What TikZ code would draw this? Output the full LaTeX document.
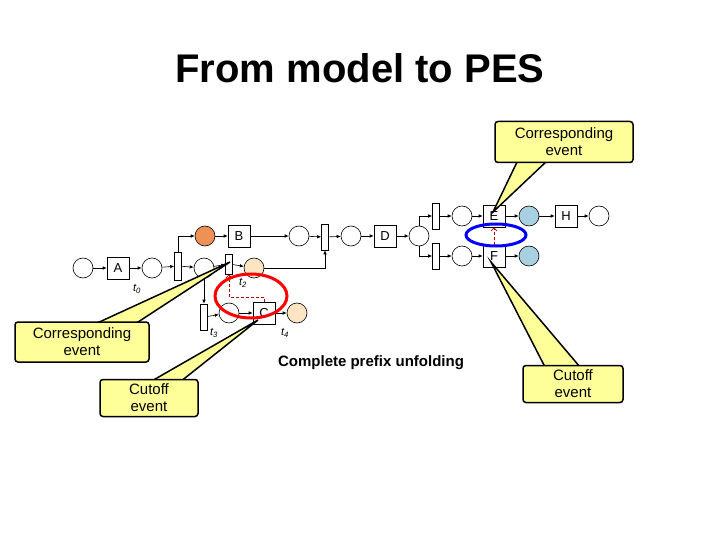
\documentclass[tikz,border=0pt]{standalone}
\usepackage{fontspec}
\setmainfont{Liberation Sans}
\usetikzlibrary{arrows.meta,shapes.geometric}
\definecolor{orng}{RGB}{238,145,85}
\definecolor{lorng}{RGB}{253,228,195}
\definecolor{lblue}{RGB}{168,208,224}
\definecolor{cyel}{RGB}{255,255,153}
\begin{document}
\begin{tikzpicture}[x=1pt,y=-1pt,
  pl/.style={circle,draw,fill=white,minimum size=20pt,inner sep=0pt,line width=0.6pt},
  tr/.style={rectangle,draw,fill=white,minimum size=22pt,inner sep=0pt,font=\fontsize{13}{13}\selectfont,line width=0.6pt},
  bar/.style={rectangle,draw,fill=white,minimum width=7pt,minimum height=26pt,inner sep=0pt,line width=0.6pt},
  ar/.style={-{Latex[length=4pt,width=3.5pt]},line width=0.6pt},
  lab/.style={font=\fontsize{11}{11}\selectfont\itshape},
  call/.style={draw=black,line width=1.5pt,fill=cyel},
  ctext/.style={font=\fontsize{15}{17}\selectfont,align=center}]
\useasboundingbox (0,0) rectangle (720,540);
\node[font=\fontsize{40}{40}\selectfont\bfseries] (title) at (360,68) {From model to PES};
% net
\node[pl] (p0) at (83,268) {};
\node[tr] (A) at (118,268) {A};
\node[pl] (p1) at (152,268) {};
\node[bar,minimum height=28pt] (b1) at (178,266) {};
\node[pl] (p2) at (204,268) {};
\node[bar,minimum height=20pt] (t2) at (229,264) {};
\node[pl,fill=lorng] (p3) at (254,268) {};
\node[pl,fill=orng] (po) at (205,236) {};
\node[tr] (B) at (239,236) {B};
\node[pl] (p4) at (299,236) {};
\node[bar] (b2) at (325,237) {};
\node[pl] (p5) at (351,236) {};
\node[tr] (D) at (385,236) {D};
\node[pl] (p6) at (419,236) {};
\node[bar] (b3) at (436,216) {};
\node[pl] (p7) at (462,216) {};
\node[tr] (E) at (494,216) {E};
\node[pl,fill=lblue] (p8) at (529,216) {};
\node[tr] (H) at (566,216) {H};
\node[pl] (p9) at (599,216) {};
\node[bar] (b4) at (436,256) {};
\node[pl] (p10) at (462,256) {};
\node[tr] (F) at (494,256) {F};
\node[pl,fill=lblue] (p11) at (529,256) {};
\node[bar] (t3) at (204,317) {};
\node[pl] (p12) at (229,313) {};
\node[tr] (C) at (264,313) {C};
\node[pl,fill=lorng] (p13) at (297,313) {};
\draw[ar] (p0)--(A); \draw[ar] (A)--(p1); \draw[ar] (p1)--(b1); \draw[ar] (b1)--(p2);
\draw[ar] (p2)--(t2); \draw[ar] (t2)--(p3);
\draw[ar] (b1.north) |- (po); \draw[ar] (po)--(B); \draw[ar] (B)--(p4);
\draw[ar] (p4)--(b2); \draw[ar] (b2)--(p5); \draw[ar] (p5)--(D); \draw[ar] (D)--(p6);
\draw[ar] (p3) -| (b2.south);
\draw[ar] (p6.north) |- (b3); \draw[ar] (p6.south) |- (b4);
\draw[ar] (b3)--(p7); \draw[ar] (p7)--(E); \draw[ar] (E)--(p8); \draw[ar] (p8)--(H); \draw[ar] (H)--(p9);
\draw[ar] (b4)--(p10); \draw[ar] (p10)--(F); \draw[ar] (F)--(p11);
\draw[ar] (p2.south) -- (t3.north);
\draw[ar] (t3)--(p12); \draw[ar] (p12)--(C); \draw[ar] (C)--(p13);
\node[lab] (l0) at (137,289) {t\textsubscript{0}};
\node[lab] (l2) at (243,283) {t\textsubscript{2}};
\node[lab] (l3) at (214,333) {t\textsubscript{3}};
\node[lab] (l4) at (285,333) {t\textsubscript{4}};
% red dashed relations
\coordinate (cr) at (229,297);
\draw[red!70!black,densely dashed,line width=0.7pt,-{Straight Barb[length=3pt]}] (C.north) |- (cr) -- (t2.south);
\draw[red!70!black,densely dashed,line width=0.7pt,-{Straight Barb[length=3pt]}] (F.north) -- (E.south);
\node[ellipse,draw=red,line width=3pt,minimum width=72pt,minimum height=44pt] (re) at (251,296) {};
\node[ellipse,draw=blue,line width=3pt,minimum width=60pt,minimum height=22pt] (be) at (496,235) {};
% callouts
\coordinate (k1) at (493,212);
\coordinate (k2) at (230,262);
\coordinate (k3) at (258,320);
\coordinate (k4) at (491,262);
\draw[call] (518,160) -- (k1) -- (548,160) -- cycle;
\draw[call] (95,324) -- (k2) -- (135,324) -- cycle;
\draw[call] (150,382) -- (k3) -- (180,382) -- cycle;
\draw[call] (545,367) -- (k4) -- (580,367) -- cycle;
\node[call,rounded corners=3pt,minimum width=138pt,minimum height=41pt,ctext] (c1) at (564,142) {Corresponding\\event};
\node[call,rounded corners=3pt,minimum width=134pt,minimum height=40pt,ctext] (c2) at (82,342) {Corresponding\\event};
\node[call,rounded corners=3pt,minimum width=98pt,minimum height=37pt,ctext] (c3) at (149,398) {Cutoff\\event};
\node[call,rounded corners=3pt,minimum width=100pt,minimum height=37pt,ctext] (c4) at (573,384) {Cutoff\\event};
\node[font=\fontsize{15}{15}\selectfont\bfseries] (cp) at (371,363) {Complete prefix unfolding};
\end{tikzpicture}
\end{document}
